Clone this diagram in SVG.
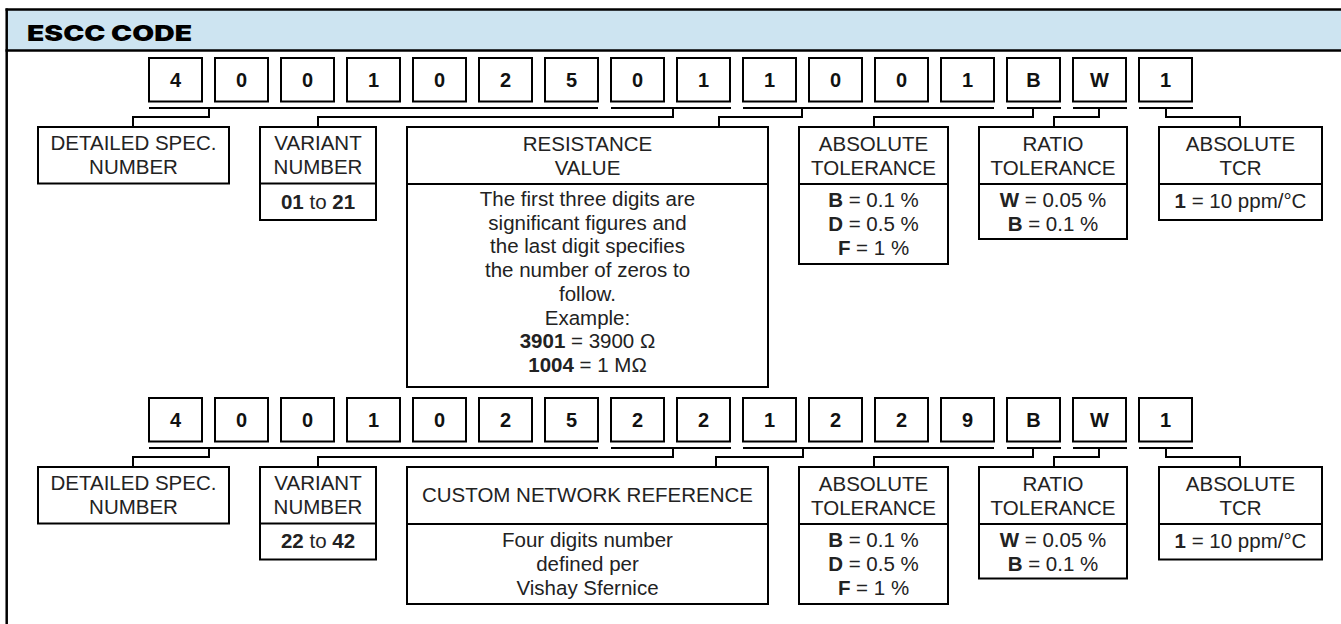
<svg xmlns="http://www.w3.org/2000/svg" width="1341" height="624" viewBox="0 0 1341 624">
<style>
.frame{fill:none;stroke:#000;stroke-width:2.5}
.box{fill:#fff;stroke:#000;stroke-width:2}
.div{stroke:#000;stroke-width:2}
.con{fill:none;stroke:#000;stroke-width:2}
.dig{font-family:"Liberation Sans",Arial,sans-serif;font-size:20px;font-weight:bold;fill:#111;text-anchor:middle}
.t{font-family:"Liberation Sans",Arial,sans-serif;font-size:20.5px;fill:#222;text-anchor:middle}
.b{font-weight:bold}
.title{font-family:Inter,Lato,"DejaVu Sans",sans-serif;font-size:21.5px;font-weight:900;fill:#000}
</style>
<rect x="0" y="0" width="1341" height="624" fill="#fff"/>
<g id="header">
<rect x="7" y="9.5" width="1340" height="41" fill="#cde4f1"/>
<line x1="5.5" y1="9.5" x2="1341" y2="9.5" class="frame"/>
<line x1="5.5" y1="50.5" x2="1341" y2="50.5" class="frame"/>
<line x1="6.7" y1="8.5" x2="6.7" y2="624" class="frame"/>
<text x="27" y="40.5" class="title" textLength="165" lengthAdjust="spacingAndGlyphs">ESCC CODE</text>
</g>

<!-- Row 1 digits -->
<g id="code1">
<g class="boxes">
<rect class="box" x="149" y="58" width="53" height="43.5"/>
<rect class="box" x="215" y="58" width="53" height="43.5"/>
<rect class="box" x="281" y="58" width="53" height="43.5"/>
<rect class="box" x="347" y="58" width="53" height="43.5"/>
<rect class="box" x="413" y="58" width="53" height="43.5"/>
<rect class="box" x="479" y="58" width="53" height="43.5"/>
<rect class="box" x="545" y="58" width="53" height="43.5"/>
<rect class="box" x="611" y="58" width="53" height="43.5"/>
<rect class="box" x="677" y="58" width="53" height="43.5"/>
<rect class="box" x="743" y="58" width="53" height="43.5"/>
<rect class="box" x="809" y="58" width="53" height="43.5"/>
<rect class="box" x="875" y="58" width="53" height="43.5"/>
<rect class="box" x="941" y="58" width="53" height="43.5"/>
<rect class="box" x="1007" y="58" width="53" height="43.5"/>
<rect class="box" x="1073" y="58" width="53" height="43.5"/>
<rect class="box" x="1139" y="58" width="53" height="43.5"/>
</g>
<text class="dig" x="175.5" y="87">4</text>
<text class="dig" x="241.5" y="87">0</text>
<text class="dig" x="307.5" y="87">0</text>
<text class="dig" x="373.5" y="87">1</text>
<text class="dig" x="439.5" y="87">0</text>
<text class="dig" x="505.5" y="87">2</text>
<text class="dig" x="571.5" y="87">5</text>
<text class="dig" x="637.5" y="87">0</text>
<text class="dig" x="703.5" y="87">1</text>
<text class="dig" x="769.5" y="87">1</text>
<text class="dig" x="835.5" y="87">0</text>
<text class="dig" x="901.5" y="87">0</text>
<text class="dig" x="967.5" y="87">1</text>
<text class="dig" x="1033.5" y="87">B</text>
<text class="dig" x="1099.5" y="87">W</text>
<text class="dig" x="1165.5" y="87">1</text>
</g>

<!-- Row 2 digits -->
<g id="code2">
<g class="boxes">
<rect class="box" x="149" y="398" width="53" height="43.5"/>
<rect class="box" x="215" y="398" width="53" height="43.5"/>
<rect class="box" x="281" y="398" width="53" height="43.5"/>
<rect class="box" x="347" y="398" width="53" height="43.5"/>
<rect class="box" x="413" y="398" width="53" height="43.5"/>
<rect class="box" x="479" y="398" width="53" height="43.5"/>
<rect class="box" x="545" y="398" width="53" height="43.5"/>
<rect class="box" x="611" y="398" width="53" height="43.5"/>
<rect class="box" x="677" y="398" width="53" height="43.5"/>
<rect class="box" x="743" y="398" width="53" height="43.5"/>
<rect class="box" x="809" y="398" width="53" height="43.5"/>
<rect class="box" x="875" y="398" width="53" height="43.5"/>
<rect class="box" x="941" y="398" width="53" height="43.5"/>
<rect class="box" x="1007" y="398" width="53" height="43.5"/>
<rect class="box" x="1073" y="398" width="53" height="43.5"/>
<rect class="box" x="1139" y="398" width="53" height="43.5"/>
</g>
<text class="dig" x="175.5" y="427">4</text>
<text class="dig" x="241.5" y="427">0</text>
<text class="dig" x="307.5" y="427">0</text>
<text class="dig" x="373.5" y="427">1</text>
<text class="dig" x="439.5" y="427">0</text>
<text class="dig" x="505.5" y="427">2</text>
<text class="dig" x="571.5" y="427">5</text>
<text class="dig" x="637.5" y="427">2</text>
<text class="dig" x="703.5" y="427">2</text>
<text class="dig" x="769.5" y="427">1</text>
<text class="dig" x="835.5" y="427">2</text>
<text class="dig" x="901.5" y="427">2</text>
<text class="dig" x="967.5" y="427">9</text>
<text class="dig" x="1033.5" y="427">B</text>
<text class="dig" x="1099.5" y="427">W</text>
<text class="dig" x="1165.5" y="427">1</text>
</g>

<g id="connectors">
<path class="con" d="M149 108H598M611 108H731M743 108H994M1007 108H1061M1073 108H1127M1139 108H1193"/>
<path class="con" d="M209 108V117H133V127"/>
<path class="con" d="M673 108V117H318V127"/>
<path class="con" d="M802 108V117H719V127"/>
<path class="con" d="M1033 108V117H874V127"/>
<path class="con" d="M1099 108V117H1054V127"/>
<path class="con" d="M1166 108V117H1240V127"/>
<path class="con" d="M149 448H598M611 448H731M743 448H994M1007 448H1061M1073 448H1127M1139 448H1193"/>
<path class="con" d="M209 448V457H133V467"/>
<path class="con" d="M673 448V457H318V467"/>
<path class="con" d="M803 448V457H716V467"/>
<path class="con" d="M1033 448V457H874V467"/>
<path class="con" d="M1099 448V457H1054V467"/>
<path class="con" d="M1166 448V457H1240V467"/>
</g>

<!-- Row 1 label boxes -->
<g id="spec1">
<rect class="box" x="38" y="127" width="191" height="56.5"/>
<text class="t" x="133.5" y="150">DETAILED SPEC.</text>
<text class="t" x="133.5" y="174">NUMBER</text>
</g>
<g id="variant1">
<rect class="box" x="260" y="127" width="116" height="93"/>
<line class="div" x1="260" y1="183.5" x2="376" y2="183.5"/>
<text class="t" x="318" y="150">VARIANT</text>
<text class="t" x="318" y="174">NUMBER</text>
<text class="t" x="318" y="208.5"><tspan class="b">01</tspan> to <tspan class="b">21</tspan></text>
</g>
<g id="resistance1">
<rect class="box" x="407" y="127" width="361" height="260"/>
<line class="div" x1="407" y1="184" x2="768" y2="184"/>
<text class="t" x="587.5" y="151">RESISTANCE</text>
<text class="t" x="587.5" y="175">VALUE</text>
<text class="t" x="587.5" y="206">The first three digits are</text>
<text class="t" x="587.5" y="229.7">significant figures and</text>
<text class="t" x="587.5" y="253.4">the last digit specifies</text>
<text class="t" x="587.5" y="277.1">the number of zeros to</text>
<text class="t" x="587.5" y="300.8">follow.</text>
<text class="t" x="587.5" y="324.5">Example:</text>
<text class="t" x="587.5" y="348.2"><tspan class="b">3901</tspan> = 3900 Ω</text>
<text class="t" x="587.5" y="371.9"><tspan class="b">1004</tspan> = 1 MΩ</text>
</g>
<g id="abstol1">
<rect class="box" x="799" y="127" width="149" height="137"/>
<line class="div" x1="799" y1="184" x2="948" y2="184"/>
<text class="t" x="873.5" y="151">ABSOLUTE</text>
<text class="t" x="873.5" y="175">TOLERANCE</text>
<text class="t" x="873.5" y="207"><tspan class="b">B</tspan> = 0.1 %</text>
<text class="t" x="873.5" y="231"><tspan class="b">D</tspan> = 0.5 %</text>
<text class="t" x="873.5" y="255"><tspan class="b">F</tspan> = 1 %</text>
</g>
<g id="ratio1">
<rect class="box" x="979" y="127" width="148" height="112"/>
<line class="div" x1="979" y1="184" x2="1127" y2="184"/>
<text class="t" x="1053" y="151">RATIO</text>
<text class="t" x="1053" y="175">TOLERANCE</text>
<text class="t" x="1053" y="207"><tspan class="b">W</tspan> = 0.05 %</text>
<text class="t" x="1053" y="231"><tspan class="b">B</tspan> = 0.1 %</text>
</g>
<g id="tcr1">
<rect class="box" x="1159" y="127" width="163" height="93"/>
<line class="div" x1="1159" y1="184" x2="1322" y2="184"/>
<text class="t" x="1240.5" y="151">ABSOLUTE</text>
<text class="t" x="1240.5" y="175">TCR</text>
<text class="t" x="1240.5" y="208"><tspan class="b">1</tspan> = 10 ppm/°C</text>
</g>

<!-- Row 2 label boxes -->
<g id="spec2">
<rect class="box" x="38" y="467" width="191" height="56.5"/>
<text class="t" x="133.5" y="490">DETAILED SPEC.</text>
<text class="t" x="133.5" y="514">NUMBER</text>
</g>
<g id="variant2">
<rect class="box" x="260" y="467" width="116" height="92.5"/>
<line class="div" x1="260" y1="523.5" x2="376" y2="523.5"/>
<text class="t" x="318" y="490">VARIANT</text>
<text class="t" x="318" y="514">NUMBER</text>
<text class="t" x="318" y="548"><tspan class="b">22</tspan> to <tspan class="b">42</tspan></text>
</g>
<g id="custom2">
<rect class="box" x="407" y="467" width="361" height="137"/>
<line class="div" x1="407" y1="524" x2="768" y2="524"/>
<text class="t" x="587.5" y="502">CUSTOM NETWORK REFERENCE</text>
<text class="t" x="587.5" y="546.5">Four digits number</text>
<text class="t" x="587.5" y="570.5">defined per</text>
<text class="t" x="587.5" y="594.5">Vishay Sfernice</text>
</g>
<g id="abstol2">
<rect class="box" x="799" y="467" width="149" height="137"/>
<line class="div" x1="799" y1="524" x2="948" y2="524"/>
<text class="t" x="873.5" y="491">ABSOLUTE</text>
<text class="t" x="873.5" y="515">TOLERANCE</text>
<text class="t" x="873.5" y="547"><tspan class="b">B</tspan> = 0.1 %</text>
<text class="t" x="873.5" y="571"><tspan class="b">D</tspan> = 0.5 %</text>
<text class="t" x="873.5" y="595"><tspan class="b">F</tspan> = 1 %</text>
</g>
<g id="ratio2">
<rect class="box" x="979" y="467" width="148" height="111.5"/>
<line class="div" x1="979" y1="524" x2="1127" y2="524"/>
<text class="t" x="1053" y="491">RATIO</text>
<text class="t" x="1053" y="515">TOLERANCE</text>
<text class="t" x="1053" y="547"><tspan class="b">W</tspan> = 0.05 %</text>
<text class="t" x="1053" y="571"><tspan class="b">B</tspan> = 0.1 %</text>
</g>
<g id="tcr2">
<rect class="box" x="1159" y="467" width="163" height="92.5"/>
<line class="div" x1="1159" y1="524" x2="1322" y2="524"/>
<text class="t" x="1240.5" y="491">ABSOLUTE</text>
<text class="t" x="1240.5" y="515">TCR</text>
<text class="t" x="1240.5" y="548"><tspan class="b">1</tspan> = 10 ppm/°C</text>
</g>
</svg>
